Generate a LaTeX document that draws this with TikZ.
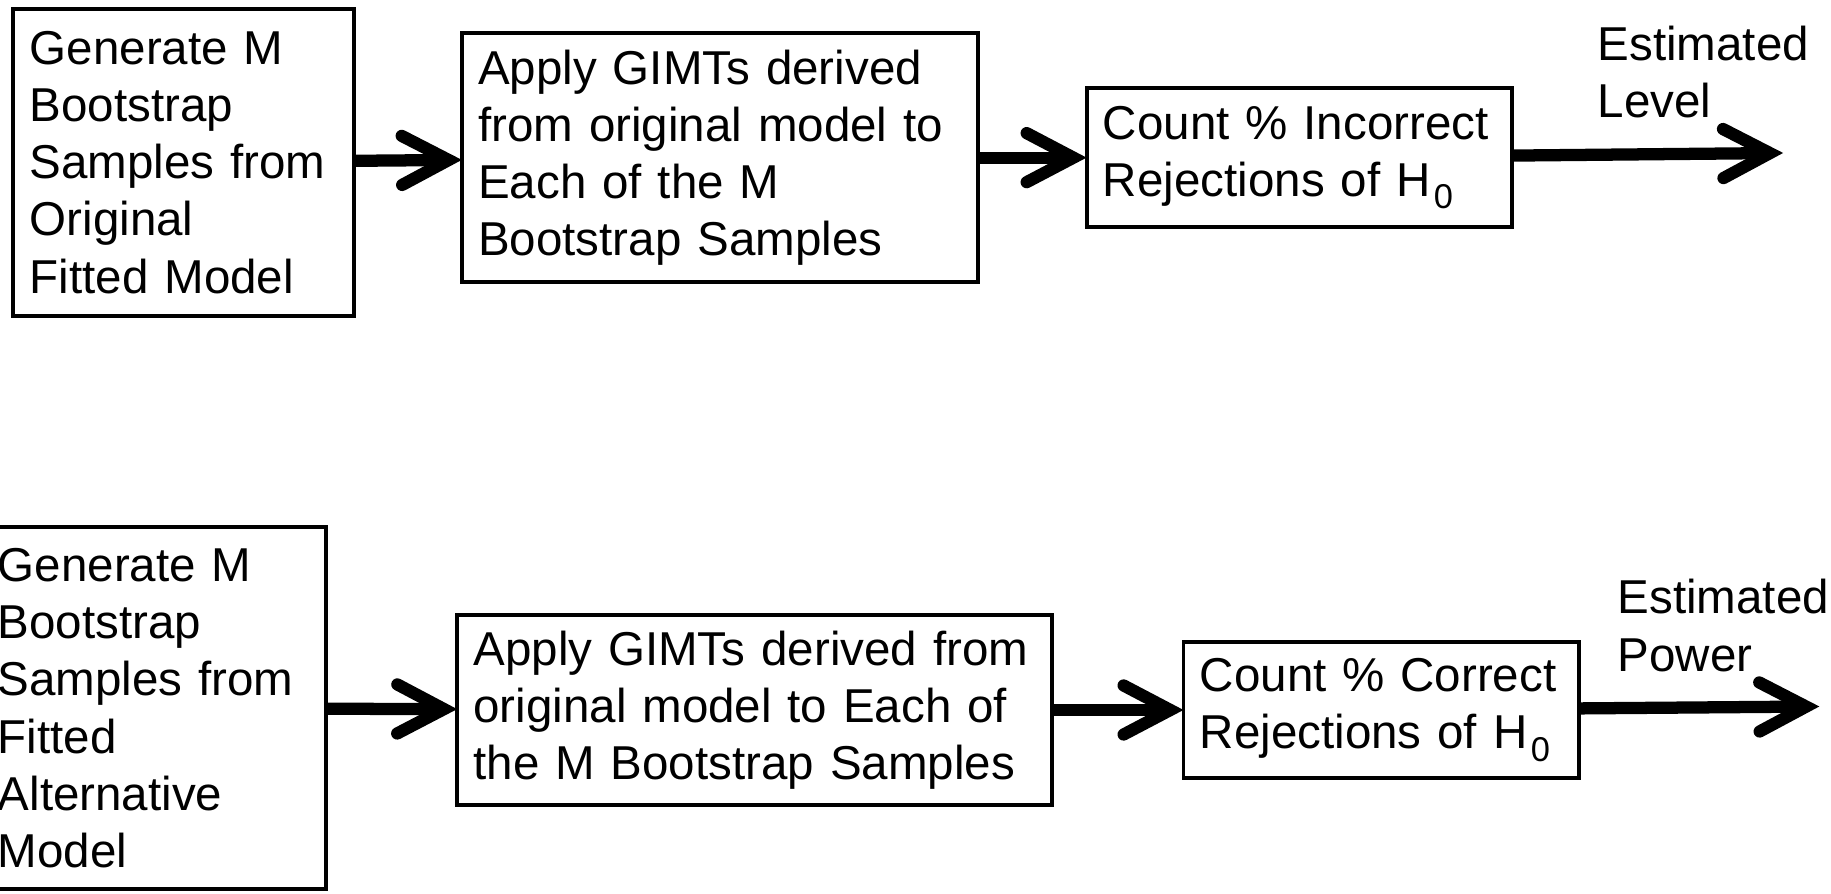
\documentclass[tikz,border=0pt]{standalone}
\usepackage{fontspec}
\setmainfont{Liberation Sans}
\usetikzlibrary{arrows.meta}
\newcommand{\Hnull}{H\kern3pt\raisebox{-10.5pt}{\fontsize{29.5}{29.5}\selectfont 0}}
\begin{document}
\begin{tikzpicture}[x=1pt,y=-1pt,
  box/.style={draw, line width=3.4pt, rectangle, align=left,
    font=\fontsize{40.7}{49}\selectfont, inner xsep=14pt, inner ysep=0pt, outer sep=0pt},
  flow/.style={line width=10.5pt,
    -{Straight Barb[length=40pt,width=42pt,line cap=round,line join=miter]}},
  lbl/.style={align=left, font=\fontsize{40.7}{49}\selectfont, inner sep=0pt, anchor=north west}]
\useasboundingbox (0,0) rectangle (1568,765);
\clip (0,0) rectangle (1568,765);

% top row
\node[box, minimum width=292pt, minimum height=263pt, text width=264pt] (A1) at (157.5,139)
  {Generate M\\Bootstrap\\Samples from\\Original\\Fitted Model};
\node[box, minimum width=442pt, minimum height=213pt, text width=414pt] (A2) at (616.5,135)
  {Apply GIMTs derived\\from original model to\\Each of the M\\Bootstrap Samples};
\node[box, minimum width=364pt, minimum height=119pt, text width=336pt] (A3) at (1112.5,135)
  {Count \% Incorrect\\Rejections of \Hnull};
\coordinate (oA) at (1527,131);
\node[lbl] (LA) at (1368,22) {Estimated\\Level};

\draw[flow] (A1) -- (A2);
\draw[flow] (A2) -- (A3);
\draw[flow] (A3) -- (oA);

% bottom row
\node[box, minimum width=295pt, minimum height=310pt, text width=267pt] (B1) at (131.6,606.5)
  {Generate M\\Bootstrap\\Samples from\\Fitted\\Alternative\\Model};
\node[box, minimum width=509pt, minimum height=163pt, text width=481pt] (B2) at (646,608)
  {Apply GIMTs derived from\\original model to Each of\\the M Bootstrap Samples};
\node[box, minimum width=339pt, minimum height=117pt, text width=311pt] (B3) at (1183,608)
  {Count \% Correct\\Rejections of \Hnull};
\coordinate (oB) at (1558,605);
\node[lbl] (LB) at (1385,496) {Estimated\\Power};

\draw[flow] (B1) -- (B2);
\draw[flow] (B2) -- (B3);
\draw[flow] (B3) -- (oB);
\end{tikzpicture}
\end{document}
